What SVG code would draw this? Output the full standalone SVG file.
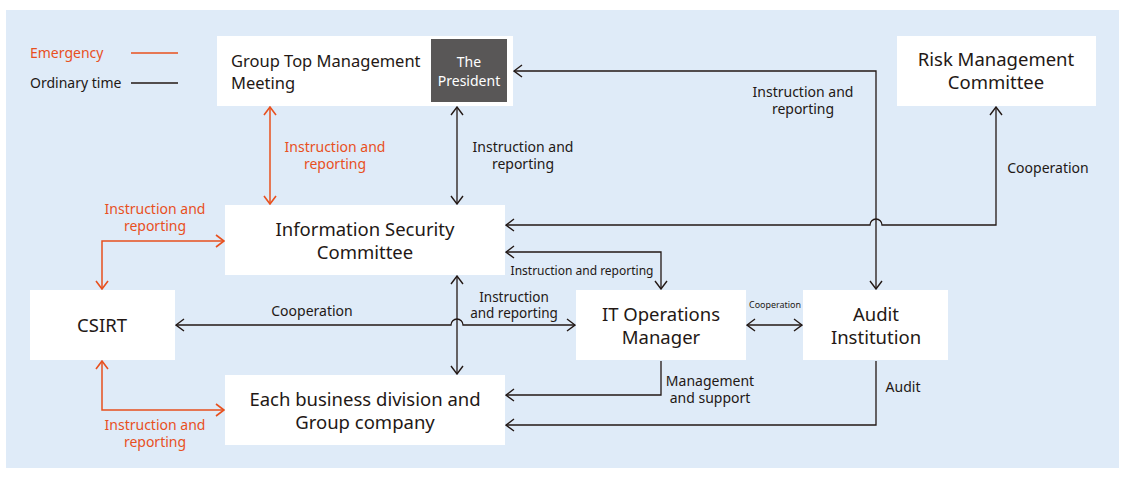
<svg xmlns="http://www.w3.org/2000/svg" width="1125" height="480" viewBox="0 0 1125 480">
<style>
.box{fill:#fff}
.t{font-family:"Noto Sans","Open Sans",sans-serif;fill:#231815}
.big{font-size:18.5px}
.lbl{font-size:14px}
.o{fill:#e8501e}
.k{stroke:#231815;stroke-width:1.3;fill:none}
.r{stroke:#e8501e;stroke-width:1.5;fill:none}
</style>
<defs>
<marker id="ak" viewBox="0 0 10 14" refX="9" refY="7" markerWidth="10" markerHeight="14" markerUnits="userSpaceOnUse" orient="auto-start-reverse">
<path d="M1,1 L9,7 L1,13" fill="none" stroke="#231815" stroke-width="1.4"/>
</marker>
<marker id="ao" viewBox="0 0 10 14" refX="9" refY="7" markerWidth="10" markerHeight="14" markerUnits="userSpaceOnUse" orient="auto-start-reverse">
<path d="M1,1 L9,7 L1,13" fill="none" stroke="#e8501e" stroke-width="1.6"/>
</marker>
</defs>
<rect x="6" y="10" width="1113" height="458" fill="#dfebf8"/>
<g id="legend">
<text class="t o" font-size="14" x="30" y="58">Emergency</text>
<line x1="131" y1="53" x2="178" y2="53" class="r"/>
<text class="t" font-size="14" x="30" y="88">Ordinary time</text>
<line x1="131" y1="83" x2="178" y2="83" class="k"/>
</g>
<g id="connectors">
<path class="r" d="M270,107 V204" marker-start="url(#ao)" marker-end="url(#ao)"/>
<path class="k" d="M457,107 V204" marker-start="url(#ak)" marker-end="url(#ak)"/>
<path class="k" d="M876,289 V71 H514" marker-start="url(#ak)" marker-end="url(#ak)"/>
<path class="k" d="M506,225 H870 A6,6 0 0 1 882,225 H996 V107" marker-start="url(#ak)" marker-end="url(#ak)"/>
<path class="k" d="M506,252 H661 V289" marker-start="url(#ak)" marker-end="url(#ak)"/>
<path class="k" d="M176,325 H451 A6,6 0 0 1 463,325 H575" marker-start="url(#ak)" marker-end="url(#ak)"/>
<path class="k" d="M457,276 V374" marker-start="url(#ak)" marker-end="url(#ak)"/>
<path class="k" d="M747,325 H802" marker-start="url(#ak)" marker-end="url(#ak)"/>
<path class="k" d="M661,361 V395 H506" marker-end="url(#ak)"/>
<path class="k" d="M876,361 V425 H506" marker-end="url(#ak)"/>
<path class="r" d="M102,289 V241 H224" marker-start="url(#ao)" marker-end="url(#ao)"/>
<path class="r" d="M102,361 V410 H224" marker-start="url(#ao)" marker-end="url(#ao)"/>
</g>
<g id="labels">
<text class="t lbl o" text-anchor="middle" x="335" y="152">Instruction and</text>
<text class="t lbl o" text-anchor="middle" x="335" y="169">reporting</text>
<text class="t lbl" text-anchor="middle" x="523" y="152">Instruction and</text>
<text class="t lbl" text-anchor="middle" x="523" y="169">reporting</text>
<text class="t lbl" text-anchor="middle" x="803" y="97">Instruction and</text>
<text class="t lbl" text-anchor="middle" x="803" y="114">reporting</text>
<text class="t lbl" text-anchor="middle" x="1048" y="173">Cooperation</text>
<text class="t" font-size="12" text-anchor="middle" x="582" y="275">Instruction and reporting</text>
<text class="t lbl" text-anchor="middle" x="312" y="316">Cooperation</text>
<text class="t" font-size="13.5" text-anchor="middle" x="514" y="302">Instruction</text>
<text class="t" font-size="13.5" text-anchor="middle" x="514" y="318">and reporting</text>
<text class="t" font-size="9.5" text-anchor="middle" x="775" y="308" textLength="52" lengthAdjust="spacingAndGlyphs">Cooperation</text>
<text class="t lbl" text-anchor="middle" x="710" y="386">Management</text>
<text class="t lbl" text-anchor="middle" x="710" y="403">and support</text>
<text class="t lbl" text-anchor="middle" x="903" y="392">Audit</text>
<text class="t lbl o" text-anchor="middle" x="155" y="214">Instruction and</text>
<text class="t lbl o" text-anchor="middle" x="155" y="231">reporting</text>
<text class="t lbl o" text-anchor="middle" x="155" y="430">Instruction and</text>
<text class="t lbl o" text-anchor="middle" x="155" y="447">reporting</text>
</g>
<g id="group-top">
<rect class="box" x="217" y="36" width="296" height="70"/>
<text class="t" font-size="16.5" x="231" y="67">Group Top Management</text>
<text class="t" font-size="16.5" x="231" y="89">Meeting</text>
</g>
<g id="president">
<rect x="431" y="39" width="76" height="63" fill="#595757"/>
<text class="t" font-size="14" text-anchor="middle" x="469" y="67" style="fill:#fff">The</text>
<text class="t" font-size="14" text-anchor="middle" x="469" y="86" style="fill:#fff">President</text>
</g>
<g id="risk">
<rect class="box" x="897" y="36" width="199" height="70"/>
<text class="t big" text-anchor="middle" x="996" y="66">Risk Management</text>
<text class="t big" text-anchor="middle" x="996" y="89">Committee</text>
</g>
<g id="isc">
<rect class="box" x="225" y="205" width="280" height="70"/>
<text class="t big" text-anchor="middle" x="365" y="236">Information Security</text>
<text class="t big" text-anchor="middle" x="365" y="259">Committee</text>
</g>
<g id="csirt">
<rect class="box" x="30" y="290" width="145" height="70"/>
<text class="t big" text-anchor="middle" x="102" y="332">CSIRT</text>
</g>
<g id="business">
<rect class="box" x="225" y="375" width="280" height="70"/>
<text class="t big" text-anchor="middle" x="365" y="406">Each business division and</text>
<text class="t big" text-anchor="middle" x="365" y="429">Group company</text>
</g>
<g id="itops">
<rect class="box" x="576" y="290" width="170" height="70"/>
<text class="t big" text-anchor="middle" x="661" y="321">IT Operations</text>
<text class="t big" text-anchor="middle" x="661" y="344">Manager</text>
</g>
<g id="audit">
<rect class="box" x="803" y="290" width="145" height="70"/>
<text class="t big" text-anchor="middle" x="876" y="321">Audit</text>
<text class="t big" text-anchor="middle" x="876" y="344">Institution</text>
</g>
</svg>
